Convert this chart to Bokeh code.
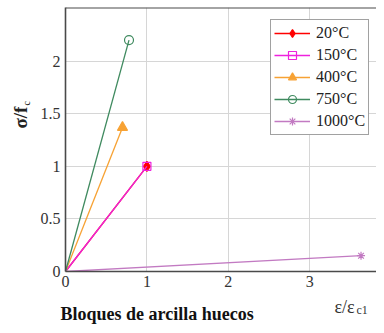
import math
from bokeh.plotting import figure
from bokeh.layouts import column, row
from bokeh.models import Range1d, FixedTicker, Span, Label, Legend, LegendItem
from bokeh.embed import file_html
from bokeh.resources import INLINE

# ---- data ----
series = ["20°C", "150°C", "400°C", "750°C", "1000°C"]
eps_20 = [0.0, 1.0]
sig_20 = [0.0, 1.0]
eps_150 = [0.0, 1.0]
sig_150 = [0.0, 1.0]
eps_400 = [0.0, 0.70]
sig_400 = [0.0, 1.37]
eps_750 = [0.0, 0.78]
sig_750 = [0.0, 2.20]
eps_1000 = [0.0, 3.63]
sig_1000 = [0.0, 0.15]
x_ticks = [0, 1, 2, 3]
y_ticks = [0, 0.5, 1, 1.5, 2]

colors = ["#ff0000", "#ee22dd", "#f7a234", "#3f8a5f", "#c27ac2"]
markers = ["diamond", "square", "triangle", "circle", "asterisk"]
fills = [True, False, True, False, False]
sizes = [10, 8, 10, 9, 8]

X_END = 3.82
Y_END = 2.51
SERIF = "'Liberation Serif', serif"

# ---- main plot ----
p = figure(width=340, height=295, output_backend="svg", toolbar_location=None,
           x_range=Range1d(0, X_END), y_range=Range1d(0, Y_END),
           min_border_left=29, min_border_right=0, min_border_top=7, min_border_bottom=24)
p.outline_line_color = None
p.background_fill_color = "white"

for ax in (p.xaxis[0], p.yaxis[0]):
    ax.axis_line_color = "#4a4a4a"
    ax.axis_line_width = 1.6
    ax.major_tick_line_color = None
    ax.minor_tick_line_color = None
    ax.major_tick_out = 0
    ax.major_tick_in = 0
    ax.minor_tick_out = 0
    ax.minor_tick_in = 0
    ax.major_label_text_font = SERIF
    ax.major_label_text_font_size = "16px"
    ax.major_label_text_color = "#333333"
p.xaxis.major_label_standoff = 4
p.yaxis.major_label_standoff = 5
p.xaxis.ticker = FixedTicker(ticks=x_ticks)
p.yaxis.ticker = FixedTicker(ticks=y_ticks)
p.xgrid.ticker = FixedTicker(ticks=x_ticks[1:])
p.ygrid.ticker = FixedTicker(ticks=y_ticks[1:])
p.grid.grid_line_color = "#d6d6d6"
p.grid.grid_line_width = 1

# top border
p.add_layout(Span(location=Y_END, dimension="width", line_color="#4a4a4a", line_width=2))

xs = [eps_20, eps_150, eps_400, eps_750, eps_1000]
ys = [sig_20, sig_150, sig_400, sig_750, sig_1000]

items = []
for name, x, y, c, m, f, s in zip(series, xs, ys, colors, markers, fills, sizes):
    ln = p.line(x, y, line_color=c, line_width=1.3)
    sc = p.scatter(x[-1:], y[-1:], marker=m, size=s, line_color=c, line_width=1.2,
                   fill_color=c if f else "white", fill_alpha=1.0 if f else 0.0)
    items.append(LegendItem(label=name, renderers=[ln, sc]))

legend = Legend(items=items, location=(205, 136))
legend.label_text_font = SERIF
legend.label_text_font_size = "16px"
legend.label_text_color = "#222222"
legend.glyph_width = 36
legend.glyph_height = 20
legend.label_height = 20
legend.label_standoff = 6
legend.spacing = 2
legend.padding = 3
legend.margin = 0
legend.border_line_color = "#444444"
legend.border_line_width = 1.5
legend.background_fill_alpha = 1.0
p.add_layout(legend)


def text_panel(w, h):
    f = figure(width=w, height=h, output_backend="svg", toolbar_location=None,
               x_axis_type=None, y_axis_type=None, x_range=Range1d(0, 1), y_range=Range1d(0, 1),
               min_border=0)
    f.outline_line_color = None
    f.background_fill_color = "white"
    f.border_fill_color = "white"
    return f


# ---- y-axis label panel ----
py = text_panel(36, 295)
py.add_layout(Label(x=20, y=143, x_units="screen", y_units="screen", text="σ/f",
                    angle=math.pi / 2, text_font=SERIF, text_font_style="bold",
                    text_font_size="19px", text_align="left", text_baseline="middle",
                    text_color="#222222"))
py.add_layout(Label(x=26, y=166, x_units="screen", y_units="screen", text="c",
                    angle=math.pi / 2, text_font=SERIF, text_font_size="10px",
                    text_align="left", text_baseline="middle", text_color="#222222"))

# ---- x-axis label and caption panel ----
pb = text_panel(376, 30)
pb.add_layout(Label(x=334, y=19, x_units="screen", y_units="screen", text="ε/ε",
                    text_font=SERIF, text_font_size="18px", text_align="left",
                    text_baseline="middle", text_color="#333333"))
pb.add_layout(Label(x=356, y=16, x_units="screen", y_units="screen", text="c1",
                    text_font=SERIF, text_font_size="12px", text_align="left",
                    text_baseline="middle", text_color="#333333"))
pb.add_layout(Label(x=60, y=12, x_units="screen", y_units="screen",
                    text="Bloques de arcilla huecos", text_font=SERIF,
                    text_font_style="bold", text_font_size="18px", text_align="left",
                    text_baseline="middle", text_color="#111111"))

layout = column(row(py, p, spacing=0), pb, spacing=0)
open("out.html", "w").write(file_html(layout, INLINE))
